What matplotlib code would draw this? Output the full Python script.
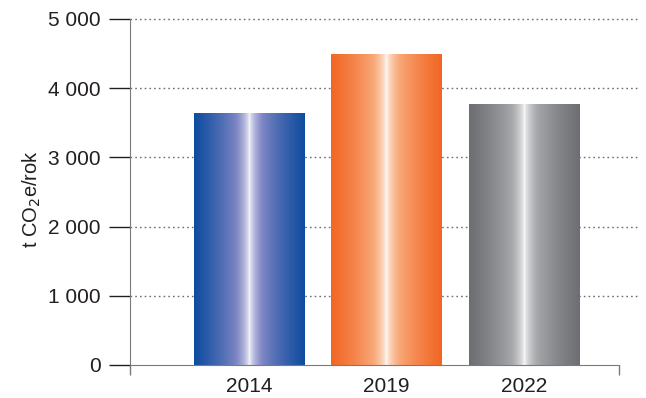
#!/usr/bin/env python3
"""Annual emissions (t CO2e/rok) for three reporting years, gradient bars."""

import matplotlib
matplotlib.use('Agg')
import matplotlib.pyplot as plt
import numpy as np
from matplotlib.colors import LinearSegmentedColormap

years = ['2014', '2019', '2022']
emissions = [3640, 4480, 3760]
yticks = [0, 1000, 2000, 3000, 4000, 5000]
ytick_labels = ['0', '1 000', '2 000', '3 000', '4 000', '5 000']

# edge colour, mid tone, centre highlight for each bar
bar_palettes = [
    ['#0f4c9f', '#7f86c4', '#ffffff'],
    ['#f26624', '#f8a878', '#ffffff'],
    ['#6d6e72', '#a6a7aa', '#ffffff'],
]

plt.rcParams['font.family'] = ['Liberation Sans', 'DejaVu Sans']

fig = plt.figure(figsize=(6.46, 3.98), dpi=100)
ax = fig.add_axes([130 / 646, 33 / 398, 510 / 646, 346 / 398])

px = 137.5                       # pixels per category step
x_left = -(249 - 130) / px
x_axis_end = (619 - 249) / px
x_right = (640 - 249) / px
width = 111 / px

# dotted grid
ax.hlines(yticks[1:], x_left, x_right, colors='#6d6e71', linestyles=(0, (1.2, 2.2)),
          linewidth=1.0, zorder=0, clip_on=False)

# horizontal gradient profile: saturated at edges, white in the middle
n = 256
u = np.linspace(0, 1, n)
profile = np.abs(u - 0.5) * 2
profile = profile ** 0.55
for i, (val, pal) in enumerate(zip(emissions, bar_palettes)):
    cmap = LinearSegmentedColormap.from_list(f'bar{i}', [(0, pal[2]), (0.45, pal[1]), (1, pal[0])])
    img = cmap(profile)[np.newaxis, :, :]
    ax.imshow(img, extent=[i - width / 2, i + width / 2, 0, val],
              aspect='auto', interpolation='bilinear', zorder=2)

ax.set_xlim(x_left, x_right)
ax.set_ylim(0, 5000)

for s in ['top', 'right']:
    ax.spines[s].set_visible(False)
ax.spines['left'].set_color('#7a7a7a')
ax.spines['bottom'].set_color('#7a7a7a')
ax.spines['bottom'].set_bounds(x_left, x_axis_end)

ax.set_yticks(yticks)
ax.set_yticklabels(ytick_labels, fontsize=15, color='#231f20')
ax.tick_params(axis='y', direction='out', length=15, width=1.0, color='#231f20', pad=6)

ax.set_xticks(range(len(years)))
ax.set_xticklabels(years, fontsize=15, color='#231f20')
ax.tick_params(axis='x', which='major', length=0, pad=9)
ax.set_xticks([x_left, x_axis_end], minor=True)
ax.tick_params(axis='x', which='minor', direction='out', length=7, width=1.0, color='#7a7a7a')

ax.set_ylabel(r't CO$_2$e/rok', fontsize=14.5, color='#231f20', labelpad=10)
ax.yaxis.set_label_coords(-0.17, 0.48)

plt.savefig('out.png', dpi=100)
plt.close()
